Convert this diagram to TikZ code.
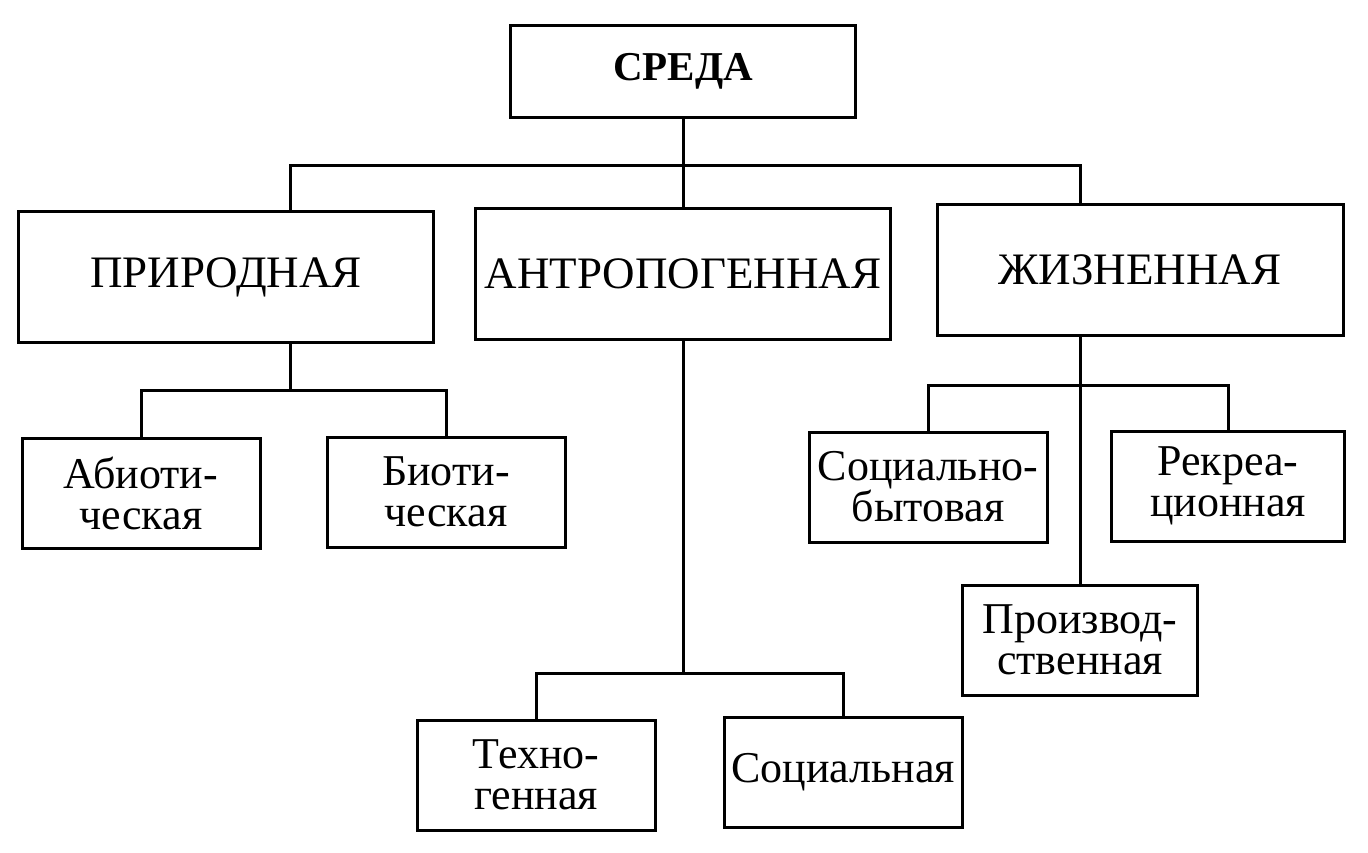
\documentclass[tikz,border=0pt]{standalone}
\usepackage{fontspec}
\setmainfont{Liberation Serif}
\usepackage{tikz}

\begin{document}
\begin{tikzpicture}[x=1pt,y=-1pt,line width=3pt,
  box/.style={draw,rectangle,inner sep=0pt,outer sep=0pt,align=center},
  topbox/.style={box,minimum width=345pt,minimum height=92pt,font=\fontsize{41}{44}\selectfont\bfseries},
  bigbox/.style={box,minimum width=412pt,minimum height=131pt,font=\fontsize{45}{48}\selectfont},
  smallbox/.style={box,minimum width=238pt,minimum height=110pt,font=\fontsize{44}{41}\selectfont}]
\useasboundingbox (0,0) rectangle (1368,852);
% boxes
\node[topbox] (sreda) at (683,71) {СРЕДА};
\node[bigbox,minimum width=415pt] (prir) at (226,277) {ПРИРОДНАЯ};
\node[bigbox,minimum width=415pt] (antr) at (683,274) {АНТРОПОГЕННАЯ};
\node[bigbox,minimum width=406pt] (zhizn) at (1140,270) {ЖИЗНЕННАЯ};
\node[smallbox] (abio) at (141,493) {Абиоти-\\ческая};
\node[smallbox] (bio) at (446,492) {Биоти-\\ческая};
\node[smallbox] (tech) at (536,775) {Техно-\\генная};
\node[smallbox] (soc) at (843,772) {Социальная};
\node[smallbox] (sbyt) at (928,487) {Социально-\\бытовая};
\node[smallbox,minimum width=233pt] (rekr) at (1228,486) {Рекреа-\\ционная};
\node[smallbox,minimum width=235pt] (prod) at (1080,640) {Производ-\\ственная};
% junctions
\coordinate (t1) at (290,165);
\coordinate (t3) at (1080,165);
\coordinate (pb) at (290,390);
\coordinate (ab) at (683,673);
\coordinate (zb) at (1080,385);
% lines
\draw (sreda.south) |- (t1) -- (t1 |- prir.north);
\draw (sreda.south) -- (antr.north);
\draw (sreda.south) |- (t3) -- (t3 |- zhizn.north);
\draw (pb |- prir.south) -- (pb);
\draw (abio.north) |- (pb) -| (bio.north);
\draw (antr.south) -- (ab);
\draw (tech.north) |- (ab) -| (soc.north);
\draw (zhizn.south -| prod.north) -- (prod.north);
\draw (sbyt.north) |- (zb) -| (rekr.north);
\end{tikzpicture}
\end{document}
